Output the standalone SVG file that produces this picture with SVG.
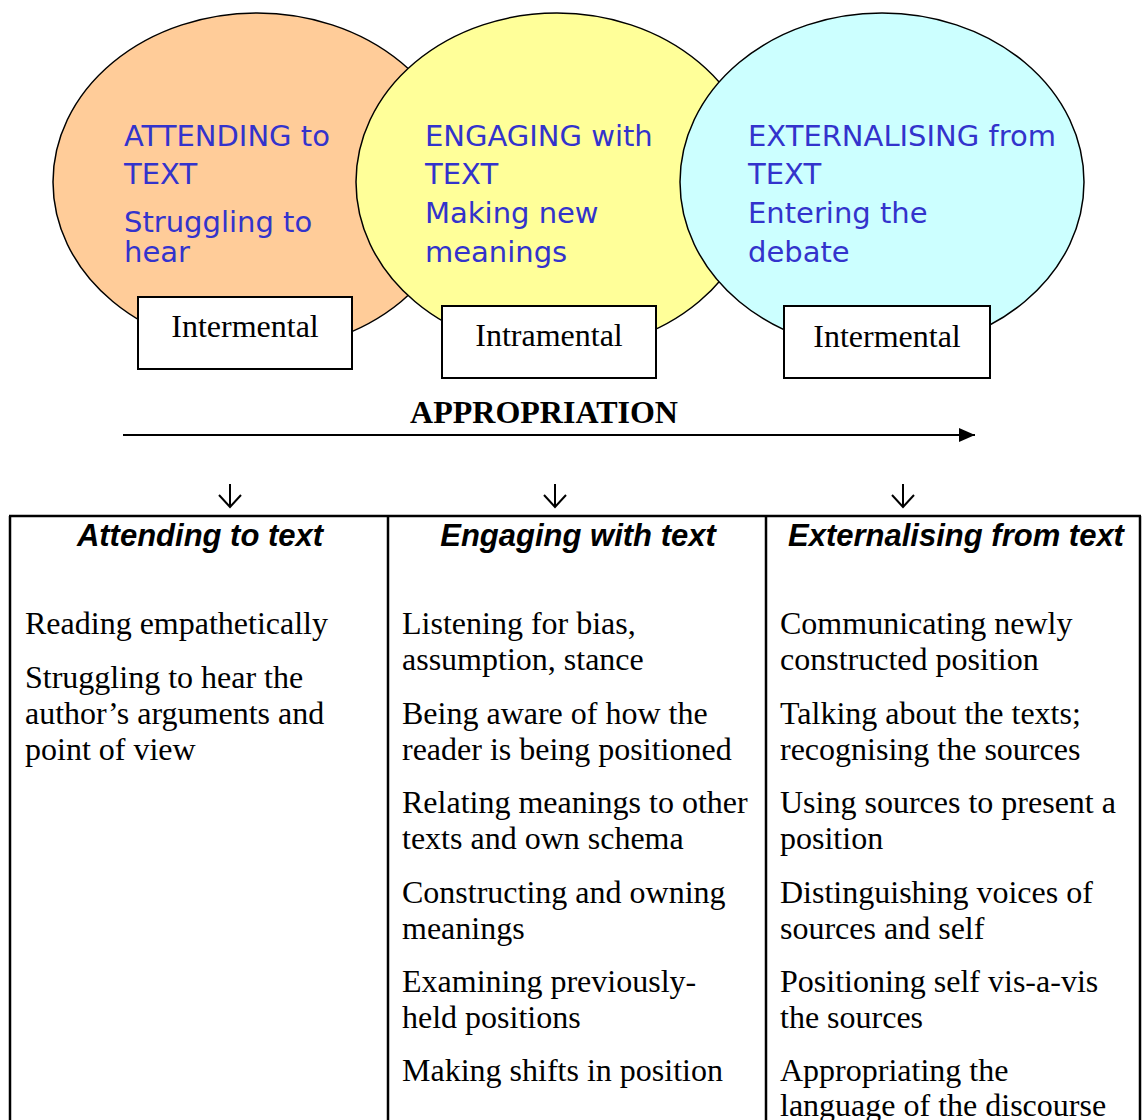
<svg xmlns="http://www.w3.org/2000/svg" width="1143" height="1120" viewBox="0 0 1143 1120">
  <style>
    .bubble { stroke: #000; stroke-width: 1.5; }
    .bubble-text { font-family: "DejaVu Sans", Tahoma, sans-serif; font-size: 29px; fill: #3333CC; }
    .tag { fill: #fff; stroke: #000; stroke-width: 2; }
    .tag-text { font-family: "Liberation Serif", "Times New Roman", serif; font-size: 32px; fill: #000; text-anchor: middle; }
    .title { font-family: "Liberation Serif", "Times New Roman", serif; font-size: 32px; font-weight: bold; fill: #000; text-anchor: middle; }
    .head { font-family: "Liberation Sans", Arial, sans-serif; font-size: 31px; font-weight: bold; font-style: italic; fill: #000; text-anchor: middle; }
    .cell { font-family: "Liberation Serif", "Times New Roman", serif; font-size: 32px; fill: #000; }
    .grid { stroke: #000; stroke-width: 2.5; fill: none; }
    .down { stroke: #000; stroke-width: 2; fill: none; }
  </style>
  <defs>
    <marker id="arrowhead" markerWidth="16" markerHeight="14" refX="16" refY="7" orient="auto" markerUnits="userSpaceOnUse">
      <path d="M0,0 L16,7 L0,14 Z" fill="#000"/>
    </marker>
    <path id="down-arrow" d="M0,-23 V0 M-11,-12 L0,0 L11,-12"/>
  </defs>

  <rect width="1143" height="1120" fill="#fff"/>

  <!-- Phase bubbles -->
  <g id="attending">
    <ellipse class="bubble" cx="257" cy="182" rx="204" ry="169" fill="#FFCC99"/>
    <text class="bubble-text" x="124" y="146">ATTENDING to</text>
    <text class="bubble-text" x="124" y="184">TEXT</text>
    <text class="bubble-text" x="124" y="232">Struggling to</text>
    <text class="bubble-text" x="124" y="262">hear</text>
  </g>
  <g id="engaging">
    <ellipse class="bubble" cx="557" cy="182" rx="201" ry="169" fill="#FFFF99"/>
    <text class="bubble-text" x="425" y="146">ENGAGING with</text>
    <text class="bubble-text" x="425" y="184">TEXT</text>
    <text class="bubble-text" x="425" y="223">Making new</text>
    <text class="bubble-text" x="425" y="262">meanings</text>
  </g>
  <g id="externalising">
    <ellipse class="bubble" cx="882" cy="182" rx="202" ry="169" fill="#CCFFFF"/>
    <text class="bubble-text" x="748" y="146">EXTERNALISING from</text>
    <text class="bubble-text" x="748" y="184">TEXT</text>
    <text class="bubble-text" x="748" y="223">Entering the</text>
    <text class="bubble-text" x="748" y="262">debate</text>
  </g>

  <!-- Mode labels -->
  <g id="tag-intermental-1">
    <rect class="tag" x="138" y="297" width="214" height="72"/>
    <text class="tag-text" x="245" y="337">Intermental</text>
  </g>
  <g id="tag-intramental">
    <rect class="tag" x="442" y="306" width="214" height="72"/>
    <text class="tag-text" x="549" y="346">Intramental</text>
  </g>
  <g id="tag-intermental-2">
    <rect class="tag" x="784" y="306" width="206" height="72"/>
    <text class="tag-text" x="887" y="347">Intermental</text>
  </g>

  <!-- Appropriation axis -->
  <g id="appropriation">
    <text class="title" x="544" y="423">APPROPRIATION</text>
  </g>
  <g id="connectors">
    <line x1="123" y1="435" x2="975" y2="435" stroke="#000" stroke-width="2" marker-end="url(#arrowhead)"/>
    <use href="#down-arrow" class="down" x="230" y="507"/>
    <use href="#down-arrow" class="down" x="555" y="507"/>
    <use href="#down-arrow" class="down" x="903" y="507"/>
  </g>

  <!-- Table of practices -->
  <g id="table">
    <line class="grid" x1="9" y1="516" x2="1141" y2="516"/>
    <line class="grid" x1="10" y1="516" x2="10" y2="1120"/>
    <line class="grid" x1="388" y1="516" x2="388" y2="1120"/>
    <line class="grid" x1="766" y1="516" x2="766" y2="1120"/>
    <line class="grid" x1="1140" y1="516" x2="1140" y2="1120"/>
  </g>

  <g id="col-attending">
    <text class="head" x="200" y="546">Attending to text</text>
    <text class="cell" x="25" y="634">Reading empathetically</text>
    <text class="cell" x="25" y="688">Struggling to hear the</text>
    <text class="cell" x="25" y="724">author’s arguments and</text>
    <text class="cell" x="25" y="760">point of view</text>
  </g>

  <g id="col-engaging">
    <text class="head" x="578" y="546">Engaging with text</text>
    <text class="cell" x="402" y="634">Listening for bias,</text>
    <text class="cell" x="402" y="670">assumption, stance</text>
    <text class="cell" x="402" y="724">Being aware of how the</text>
    <text class="cell" x="402" y="760">reader is being positioned</text>
    <text class="cell" x="402" y="813">Relating meanings to other</text>
    <text class="cell" x="402" y="849">texts and own schema</text>
    <text class="cell" x="402" y="903">Constructing and owning</text>
    <text class="cell" x="402" y="939">meanings</text>
    <text class="cell" x="402" y="992">Examining previously-</text>
    <text class="cell" x="402" y="1028">held positions</text>
    <text class="cell" x="402" y="1081">Making shifts in position</text>
  </g>

  <g id="col-externalising">
    <text class="head" x="956" y="546">Externalising from text</text>
    <text class="cell" x="780" y="634">Communicating newly</text>
    <text class="cell" x="780" y="670">constructed position</text>
    <text class="cell" x="780" y="724">Talking about the texts;</text>
    <text class="cell" x="780" y="760">recognising the sources</text>
    <text class="cell" x="780" y="813">Using sources to present a</text>
    <text class="cell" x="780" y="849">position</text>
    <text class="cell" x="780" y="903">Distinguishing voices of</text>
    <text class="cell" x="780" y="939">sources and self</text>
    <text class="cell" x="780" y="992">Positioning self vis-a-vis</text>
    <text class="cell" x="780" y="1028">the sources</text>
    <text class="cell" x="780" y="1081">Appropriating the</text>
    <text class="cell" x="780" y="1116">language of the discourse</text>
  </g>
</svg>
